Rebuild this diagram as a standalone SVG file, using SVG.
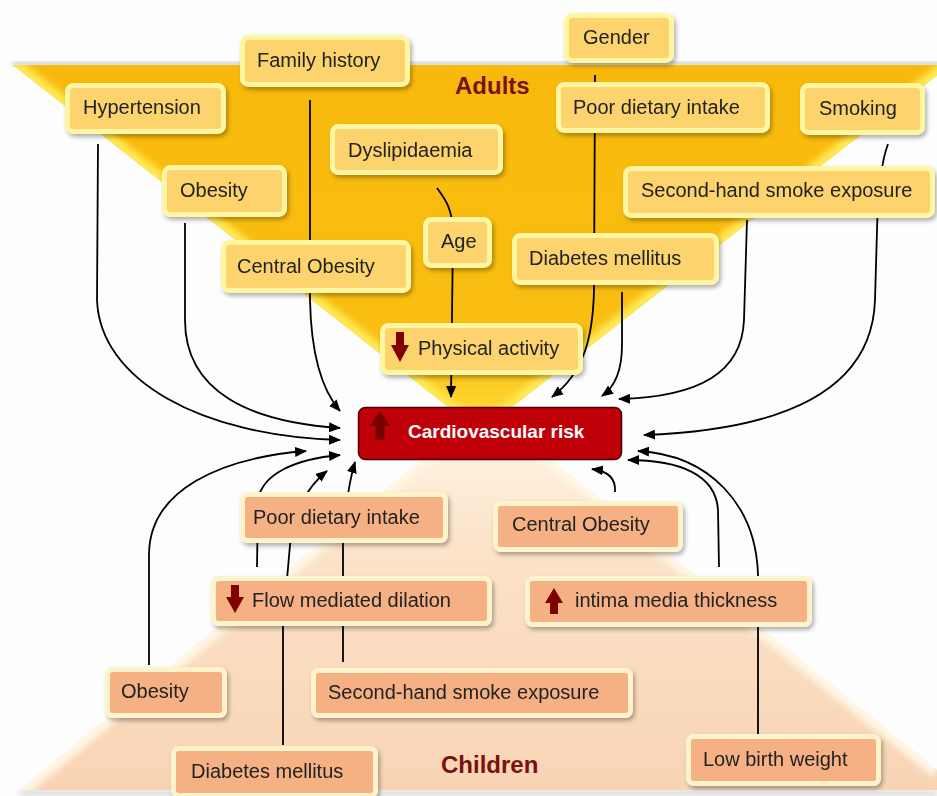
<svg xmlns="http://www.w3.org/2000/svg" width="937" height="796" viewBox="0 0 937 796">
<style>
.lbl{font-family:"Liberation Sans",Arial,sans-serif;font-size:20px;fill:#222}
.ad{fill:#FCD36C;stroke:#FFF6A4;stroke-width:5}
.ch{fill:#F5B184;stroke:#FFF3CC;stroke-width:5}
.con{fill:none;stroke:#000;stroke-width:1.8;marker-end:url(#ah)}
.icon{fill:#7E0000}
.title{font-family:"Liberation Sans",Arial,sans-serif;font-size:24px;font-weight:bold;fill:#7A1010}
</style>
<defs>
<marker id="ah" markerUnits="userSpaceOnUse" markerWidth="12" markerHeight="10" refX="11" refY="5" orient="auto">
<path d="M0,0 L12,5 L0,10 z" fill="#000"/>
</marker>
<filter id="sh" x="-10%" y="-20%" width="125%" height="150%">
<feDropShadow dx="2" dy="3" stdDeviation="2" flood-color="#000" flood-opacity="0.3"/>
</filter>
<filter id="bl" x="-5%" y="-5%" width="110%" height="110%">
<feGaussianBlur stdDeviation="3"/>
</filter>
<linearGradient id="gTop" x1="0" y1="65" x2="0" y2="432" gradientUnits="userSpaceOnUse">
<stop offset="0" stop-color="#F8B90C"/>
<stop offset="0.8" stop-color="#F9BF12"/>
<stop offset="1" stop-color="#FFE040"/>
</linearGradient>
<linearGradient id="gBot" x1="0" y1="407" x2="0" y2="790" gradientUnits="userSpaceOnUse">
<stop offset="0" stop-color="#FFF8E8"/>
<stop offset="0.35" stop-color="#FCE3CA"/>
<stop offset="1" stop-color="#F8D4B4"/>
</linearGradient>
<clipPath id="cTop"><polygon points="13,65 950,65 480,432"/></clipPath>
<clipPath id="cBot"><polygon points="486,407 20,790 937,790 937,770"/></clipPath>
</defs>
<rect width="937" height="796" fill="#FDFDFD"/>
<g id="adults-band">
<polygon points="13,62 950,62 950,66 13,66" fill="#BDBDBD" filter="url(#bl)"/>
<polygon points="13,65 950,65 480,432" fill="url(#gTop)"/>
<g clip-path="url(#cTop)">
<polyline points="13,65 480,432 950,65" fill="none" stroke="#FFE852" stroke-width="16" filter="url(#bl)"/>
</g>
<text class="title" x="455" y="94">Adults</text>
</g>
<g id="children-band">
<polygon points="20,791 937,791 937,795 20,795" fill="#C8C8C8" filter="url(#bl)"/>
<polygon points="486,407 20,790 937,790 937,770" fill="url(#gBot)"/>
<g clip-path="url(#cBot)">
<polyline points="20,790 486,407 937,770" fill="none" stroke="#FFF6E4" stroke-width="16" filter="url(#bl)"/>
</g>
<text class="title" x="441" y="773">Children</text>
</g>
<g id="connectors">
<path class="con" d="M310,100 L310,300 C311,350 320,388 340,411"/>
<path class="con" d="M185,223 L185,320 C185,392 250,422 340,428"/>
<path class="con" d="M98,144 L97,300 C100,380 200,436 340,440"/>
<path class="con" d="M437,188 C446,200 453,210 453,235 L451,397"/>
<path class="con" d="M595,75 L594,290 C593,335 585,372 552,397"/>
<path class="con" d="M622,292 L622,345 C622,370 616,386 602,396"/>
<path class="con" d="M747,220 L744,320 C742,372 700,397 619,399"/>
<path class="con" d="M888,144 C882,160 878,190 877,230 L875,300 C872,392 780,430 644,435"/>
<path class="con" d="M149,665 L149,555 C149,490 220,458 306,451"/>
<path class="con" d="M257,567 L258,500 C262,474 295,459 340,455"/>
<path class="con" d="M283,745 L283,625 L290,545 C295,510 306,488 327,471"/>
<path class="con" d="M343,662 L343,545 C345,510 348,485 355,462"/>
<path class="con" d="M615,492 C616,478 608,471 592,469"/>
<path class="con" d="M719,567 L718,510 C716,475 680,460 628,460"/>
<path class="con" d="M758,734 L758,575 C756,505 710,455 638,451"/>
</g>
<g id="hypertension" filter="url(#sh)"><rect class="ad" x="67.5" y="85.5" width="156" height="46" rx="6"/><text class="lbl" x="83" y="114">Hypertension</text></g>
<g id="family-history" filter="url(#sh)"><rect class="ad" x="242.5" y="37.5" width="165" height="47" rx="6"/><text class="lbl" x="257" y="67">Family history</text></g>
<g id="gender" filter="url(#sh)"><rect class="ad" x="566.5" y="15.5" width="105" height="45" rx="6"/><text class="lbl" x="583" y="44">Gender</text></g>
<g id="dyslipidaemia" filter="url(#sh)"><rect class="ad" x="332.5" y="126.5" width="168" height="46" rx="6"/><text class="lbl" x="348" y="157">Dyslipidaemia</text></g>
<g id="poor-dietary-adult" filter="url(#sh)"><rect class="ad" x="558.5" y="84.5" width="209" height="46" rx="6"/><text class="lbl" x="573" y="114">Poor dietary intake</text></g>
<g id="smoking" filter="url(#sh)"><rect class="ad" x="802.5" y="85.5" width="120" height="47" rx="6"/><text class="lbl" x="819" y="115">Smoking</text></g>
<g id="obesity-adult" filter="url(#sh)"><rect class="ad" x="164.5" y="167.5" width="120" height="47" rx="6"/><text class="lbl" x="180" y="197">Obesity</text></g>
<g id="shs-adult" filter="url(#sh)"><rect class="ad" x="625.5" y="168.5" width="307" height="47" rx="6"/><text class="lbl" x="641" y="197">Second-hand smoke exposure</text></g>
<g id="age" filter="url(#sh)"><rect class="ad" x="425.5" y="219.5" width="64" height="46" rx="6"/><text class="lbl" x="441" y="248">Age</text></g>
<g id="central-obesity-adult" filter="url(#sh)"><rect class="ad" x="223.5" y="242.5" width="185" height="48" rx="6"/><text class="lbl" x="237" y="273">Central Obesity</text></g>
<g id="diabetes-adult" filter="url(#sh)"><rect class="ad" x="514.5" y="235.5" width="202" height="47" rx="6"/><text class="lbl" x="529" y="265">Diabetes mellitus</text></g>
<g id="physical-activity" filter="url(#sh)"><rect class="ad" x="382.5" y="325.5" width="198" height="47" rx="6"/><polygon class="icon" points="396,332 404,332 404,345 409,345 400,362 391,345 396,345"/><text class="lbl" x="418" y="355">Physical activity</text></g>
<g id="poor-dietary-child" filter="url(#sh)"><rect class="ch" x="242.5" y="494.5" width="203" height="46" rx="5"/><text class="lbl" x="253" y="524">Poor dietary intake</text></g>
<g id="central-obesity-child" filter="url(#sh)"><rect class="ch" x="495.5" y="503.5" width="185" height="46" rx="5"/><text class="lbl" x="512" y="531">Central Obesity</text></g>
<g id="flow-mediated" filter="url(#sh)"><rect class="ch" x="213.5" y="578.5" width="276" height="45" rx="5"/><polygon class="icon" points="231,585 239,585 239,597 244,597 235,613 226,597 231,597"/><text class="lbl" x="252" y="607">Flow mediated dilation</text></g>
<g id="intima-media" filter="url(#sh)"><rect class="ch" x="527.5" y="578.5" width="282" height="46" rx="5"/><polygon class="icon" points="554,588 563,603 558,603 558,614 550,614 550,603 545,603"/><text class="lbl" x="575" y="607">intima media thickness</text></g>
<g id="obesity-child" filter="url(#sh)"><rect class="ch" x="107.5" y="669.5" width="117" height="46" rx="5"/><text class="lbl" x="121" y="698">Obesity</text></g>
<g id="shs-child" filter="url(#sh)"><rect class="ch" x="313.5" y="670.5" width="317" height="45" rx="5"/><text class="lbl" x="328" y="699">Second-hand smoke exposure</text></g>
<g id="diabetes-child" filter="url(#sh)"><rect class="ch" x="173.5" y="748.5" width="202" height="47" rx="5"/><text class="lbl" x="191" y="778">Diabetes mellitus</text></g>
<g id="low-birth-weight" filter="url(#sh)"><rect class="ch" x="688.5" y="736.5" width="190" height="47" rx="5"/><text class="lbl" x="703" y="766">Low birth weight</text></g>
<g id="cardiovascular-risk">
<rect x="358.5" y="407.5" width="263" height="52" rx="7" fill="#C00008" stroke="#4A0000" stroke-width="1.5"/>
<polygon points="380,411 390,426 384.5,426 384.5,440 375.5,440 375.5,426 370,426" fill="#6A0000" opacity="0.85"/>
<text x="408" y="438" font-family="Liberation Sans,Arial,sans-serif" font-size="19" font-weight="bold" fill="#FFFFFF">Cardiovascular risk</text>
</g>
</svg>
